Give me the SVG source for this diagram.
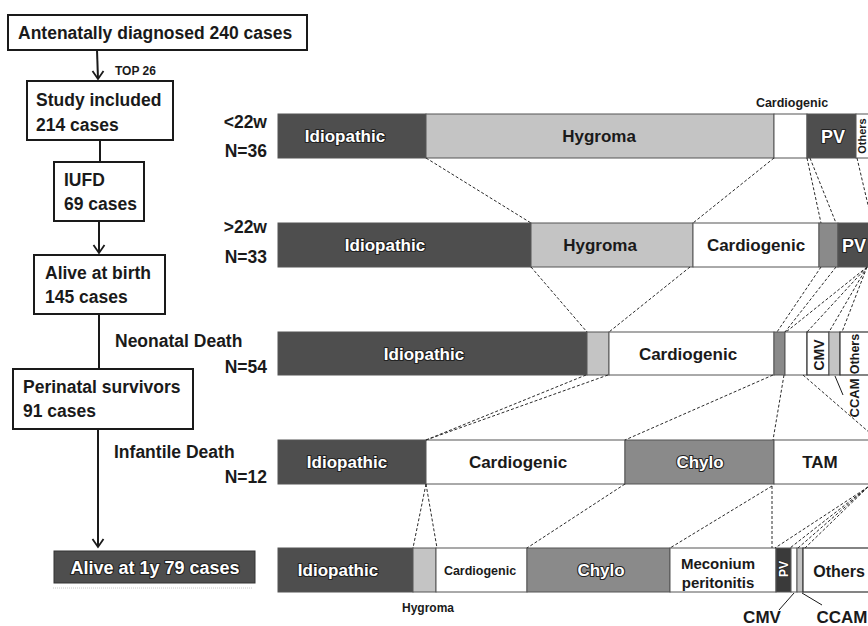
<svg xmlns="http://www.w3.org/2000/svg" width="868" height="626" viewBox="0 0 868 626">
<style>
  text{font-family:"Liberation Sans",Arial,sans-serif;font-weight:bold;fill:#1a1a1a}
  .box{fill:#fff;stroke:#1a1a1a;stroke-width:2}
  .fl{stroke:#1a1a1a;stroke-width:2;fill:none}
  .ah{stroke:#1a1a1a;stroke-width:1.8;fill:none;stroke-linejoin:miter}
  .lbl{font-size:17.5px}
  .seg{stroke:#555;stroke-width:1}
  .dk{fill:#4e4e4e}
  .lt{fill:#c4c4c4}
  .md{fill:#8a8a8a}
  .wh{fill:#fff}
  .wt{fill:#fff;stroke:#222;stroke-width:2.2;paint-order:stroke;stroke-linejoin:round}
  .bt{font-size:17px}
  .dash{stroke:#2a2a2a;stroke-width:1;stroke-dasharray:3 2;fill:none}
  .lead{stroke:#1a1a1a;stroke-width:1;fill:none}
</style>

<!-- Flowchart -->
<g id="n-antenatal">
  <rect class="box" x="8" y="15" width="299" height="35"/>
  <text class="lbl" x="18" y="39">Antenatally diagnosed 240 cases</text>
</g>
<g id="n-study">
  <rect class="box" x="27" y="81" width="146" height="59"/>
  <text class="lbl" x="36" y="106">Study included</text>
  <text class="lbl" x="36" y="131">214 cases</text>
</g>
<g id="n-iufd">
  <rect class="box" x="54" y="162" width="90" height="59"/>
  <text class="lbl" x="64" y="186">IUFD</text>
  <text class="lbl" x="64" y="210">69 cases</text>
</g>
<g id="n-alive-birth">
  <rect class="box" x="34" y="255" width="131" height="59"/>
  <text class="lbl" x="45" y="279">Alive at birth</text>
  <text class="lbl" x="45" y="303">145 cases</text>
</g>
<g id="n-perinatal">
  <rect class="box" x="13" y="369" width="180" height="60"/>
  <text class="lbl" x="23" y="393">Perinatal survivors</text>
  <text class="lbl" x="23" y="417">91 cases</text>
</g>
<g id="n-alive-1y">
  <rect x="54" y="551" width="201" height="32" fill="#4e4e4e" stroke="#333" stroke-width="1"/>
  <text class="wt" x="155" y="574" text-anchor="middle" font-size="18">Alive at 1y 79 cases</text>
  <line x1="53" y1="588" x2="253" y2="588" stroke="#c8c8c8" stroke-width="1" stroke-dasharray="1 1"/>
</g>

<g id="flow-connectors">
  <line class="fl" x1="97" y1="50" x2="98" y2="79"/>
  <path class="ah" d="M92.5,71 L98,79 L103.5,71"/>
  <text x="115" y="75" font-size="12">TOP 26</text>
  <line class="fl" x1="100" y1="140" x2="100" y2="162"/>
  <line class="fl" x1="99" y1="221" x2="99" y2="253"/>
  <path class="ah" d="M93.5,245 L99,253 L104.5,245"/>
  <line class="fl" x1="99" y1="314" x2="99" y2="369"/>
  <text class="lbl" x="115" y="347">Neonatal Death</text>
  <line class="fl" x1="98" y1="429" x2="98" y2="547"/>
  <path class="ah" d="M92.5,539 L98,547 L103.5,539"/>
  <text class="lbl" x="114" y="458">Infantile Death</text>
</g>

<!-- Row labels -->
<g id="row-labels">
  <text class="lbl" x="267" y="128" text-anchor="end">&lt;22w</text>
  <text class="lbl" x="267" y="157" text-anchor="end">N=36</text>
  <text class="lbl" x="267" y="233" text-anchor="end">&gt;22w</text>
  <text class="lbl" x="267" y="263" text-anchor="end">N=33</text>
  <text class="lbl" x="267" y="373" text-anchor="end">N=54</text>
  <text class="lbl" x="267" y="483" text-anchor="end">N=12</text>
</g>

<!-- Row 1: <22w -->
<g id="bar-lt22w">
  <rect class="seg dk" x="278" y="114" width="148" height="44"/>
  <rect class="seg lt" x="426" y="114" width="348" height="44"/>
  <rect class="seg wh" x="774" y="114" width="33" height="44"/>
  <rect class="seg dk" x="807" y="114" width="49" height="44"/>
  <rect class="seg wh" x="856" y="114" width="16" height="44"/>
  <text class="wt bt" x="345" y="142" text-anchor="middle">Idiopathic</text>
  <text class="bt" x="599" y="142" text-anchor="middle">Hygroma</text>
  <text x="792" y="107" text-anchor="middle" font-size="12.5">Cardiogenic</text>
  <text class="wt" x="833" y="143" text-anchor="middle" font-size="18">PV</text>
  <text transform="translate(866,136) rotate(-90)" text-anchor="middle" font-size="11">Others</text>
</g>

<!-- Row 2: >22w -->
<g id="bar-gt22w">
  <rect class="seg dk" x="278" y="223" width="253" height="44"/>
  <rect class="seg lt" x="531" y="223" width="162" height="44"/>
  <rect class="seg wh" x="693" y="223" width="126" height="44"/>
  <rect class="seg md" x="819" y="223" width="19" height="44"/>
  <rect class="seg dk" x="838" y="223" width="34" height="44"/>
  <text class="wt bt" x="385" y="251" text-anchor="middle">Idiopathic</text>
  <text class="bt" x="600" y="251" text-anchor="middle">Hygroma</text>
  <text class="bt" x="756" y="251" text-anchor="middle">Cardiogenic</text>
  <text class="wt" x="842" y="252" font-size="18">PV</text>
</g>

<!-- Row 3: Neonatal death -->
<g id="bar-neonatal">
  <rect class="seg dk" x="278" y="332" width="309" height="43"/>
  <rect class="seg lt" x="587" y="332" width="22" height="43"/>
  <rect class="seg wh" x="609" y="332" width="165" height="43"/>
  <rect class="seg md" x="774" y="332" width="11" height="43"/>
  <rect class="seg wh" x="785" y="332" width="22" height="43"/>
  <rect x="807" y="332" width="22" height="43" fill="#fff" stroke="#333" stroke-width="1.2"/>
  <rect class="seg lt" x="829" y="332" width="11" height="43"/>
  <rect x="840" y="332" width="32" height="43" fill="#fff" stroke="#333" stroke-width="1.2"/>
  <text class="wt bt" x="424" y="360" text-anchor="middle">Idiopathic</text>
  <text class="bt" x="688" y="360" text-anchor="middle">Cardiogenic</text>
  <text transform="translate(824,355) rotate(-90)" text-anchor="middle" font-size="14">CMV</text>
  <text transform="translate(859,354) rotate(-90)" text-anchor="middle" font-size="12.5">Others</text>
  <text transform="translate(859,398) rotate(-90)" text-anchor="middle" font-size="13">CCAM</text>
</g>

<!-- Row 4: Infantile death -->
<g id="bar-infantile">
  <rect class="seg dk" x="278" y="440" width="148" height="44"/>
  <rect class="seg wh" x="426" y="440" width="199" height="44"/>
  <rect class="seg md" x="625" y="440" width="149" height="44"/>
  <rect class="seg wh" x="774" y="440" width="98" height="44"/>
  <text class="wt bt" x="347" y="468" text-anchor="middle">Idiopathic</text>
  <text class="bt" x="518" y="468" text-anchor="middle">Cardiogenic</text>
  <text class="wt bt" x="700" y="468" text-anchor="middle">Chylo</text>
  <text class="bt" x="820" y="468" text-anchor="middle">TAM</text>
</g>

<!-- Row 5: Alive at 1y -->
<g id="bar-alive">
  <rect class="seg dk" x="278" y="548" width="135" height="44"/>
  <rect class="seg lt" x="413" y="548" width="23" height="44"/>
  <rect class="seg wh" x="436" y="548" width="91" height="44"/>
  <rect class="seg md" x="527" y="548" width="143" height="44"/>
  <rect class="seg wh" x="670" y="548" width="106" height="44"/>
  <rect class="seg" x="776" y="548" width="15" height="44" fill="#3a3a3a"/>
  <rect class="seg wh" x="791" y="548" width="6" height="44"/>
  <rect class="seg lt" x="797" y="548" width="6" height="44"/>
  <rect x="803" y="548" width="69" height="44" fill="#fff" stroke="#333" stroke-width="1.2"/>
  <text class="wt bt" x="338" y="576" text-anchor="middle">Idiopathic</text>
  <text x="480" y="575" text-anchor="middle" font-size="12.5">Cardiogenic</text>
  <text class="wt bt" x="601" y="576" text-anchor="middle">Chylo</text>
  <text x="718" y="569" text-anchor="middle" font-size="15">Meconium</text>
  <text x="718" y="588" text-anchor="middle" font-size="15">peritonitis</text>
  <text class="wt" transform="translate(788,569) rotate(-90)" text-anchor="middle" font-size="12" style="stroke-width:1.5">PV</text>
  <text x="839" y="577" text-anchor="middle" font-size="16">Others</text>
  <text x="428" y="612" text-anchor="middle" font-size="12">Hygroma</text>
  <text x="762" y="623" text-anchor="middle" font-size="17">CMV</text>
  <text x="842" y="623" text-anchor="middle" font-size="17">CCAM</text>
</g>

<!-- Connectors between bars -->
<g id="connectors">
  <line class="dash" x1="426" y1="158" x2="531" y2="223"/>
  <line class="dash" x1="774" y1="158" x2="693" y2="223"/>
  <line class="dash" x1="807" y1="158" x2="821" y2="223"/>
  <line class="dash" x1="810" y1="158" x2="836" y2="223"/>
  <line class="dash" x1="857" y1="158" x2="872" y2="222"/>
  <line class="dash" x1="531" y1="267" x2="587" y2="332"/>
  <line class="dash" x1="690" y1="267" x2="609" y2="332"/>
  <line class="dash" x1="821" y1="267" x2="777" y2="332"/>
  <line class="dash" x1="836" y1="267" x2="785" y2="332"/>
  <line class="dash" x1="867" y1="267" x2="786" y2="332"/>
  <line class="dash" x1="867" y1="267" x2="807" y2="332"/>
  <line class="dash" x1="867" y1="267" x2="829" y2="332"/>
  <line class="dash" x1="867" y1="267" x2="842" y2="332"/>
  <line class="dash" x1="586" y1="375" x2="426" y2="440"/>
  <line class="dash" x1="608" y1="375" x2="426" y2="440"/>
  <line class="dash" x1="773" y1="375" x2="625" y2="440"/>
  <line class="dash" x1="784" y1="375" x2="773" y2="440"/>
  <line class="dash" x1="803" y1="375" x2="878" y2="440"/>
  <line class="dash" x1="426" y1="484" x2="413" y2="548"/>
  <line class="dash" x1="426" y1="484" x2="437" y2="548"/>
  <line class="dash" x1="625" y1="484" x2="527" y2="548"/>
  <line class="dash" x1="772" y1="486" x2="670" y2="548"/>
  <line class="dash" x1="772" y1="486" x2="772" y2="548"/>
  <line class="dash" x1="868" y1="487" x2="775" y2="548"/>
  <line class="dash" x1="868" y1="487" x2="790" y2="548"/>
  <line class="dash" x1="868" y1="487" x2="798" y2="548"/>
  <line class="dash" x1="868" y1="487" x2="805" y2="548"/>
  <line class="lead" x1="835" y1="376" x2="843" y2="395"/>
  <line class="lead" x1="794" y1="593" x2="779" y2="610"/>
  <line class="lead" x1="802" y1="593" x2="822" y2="605"/>
</g>
</svg>
